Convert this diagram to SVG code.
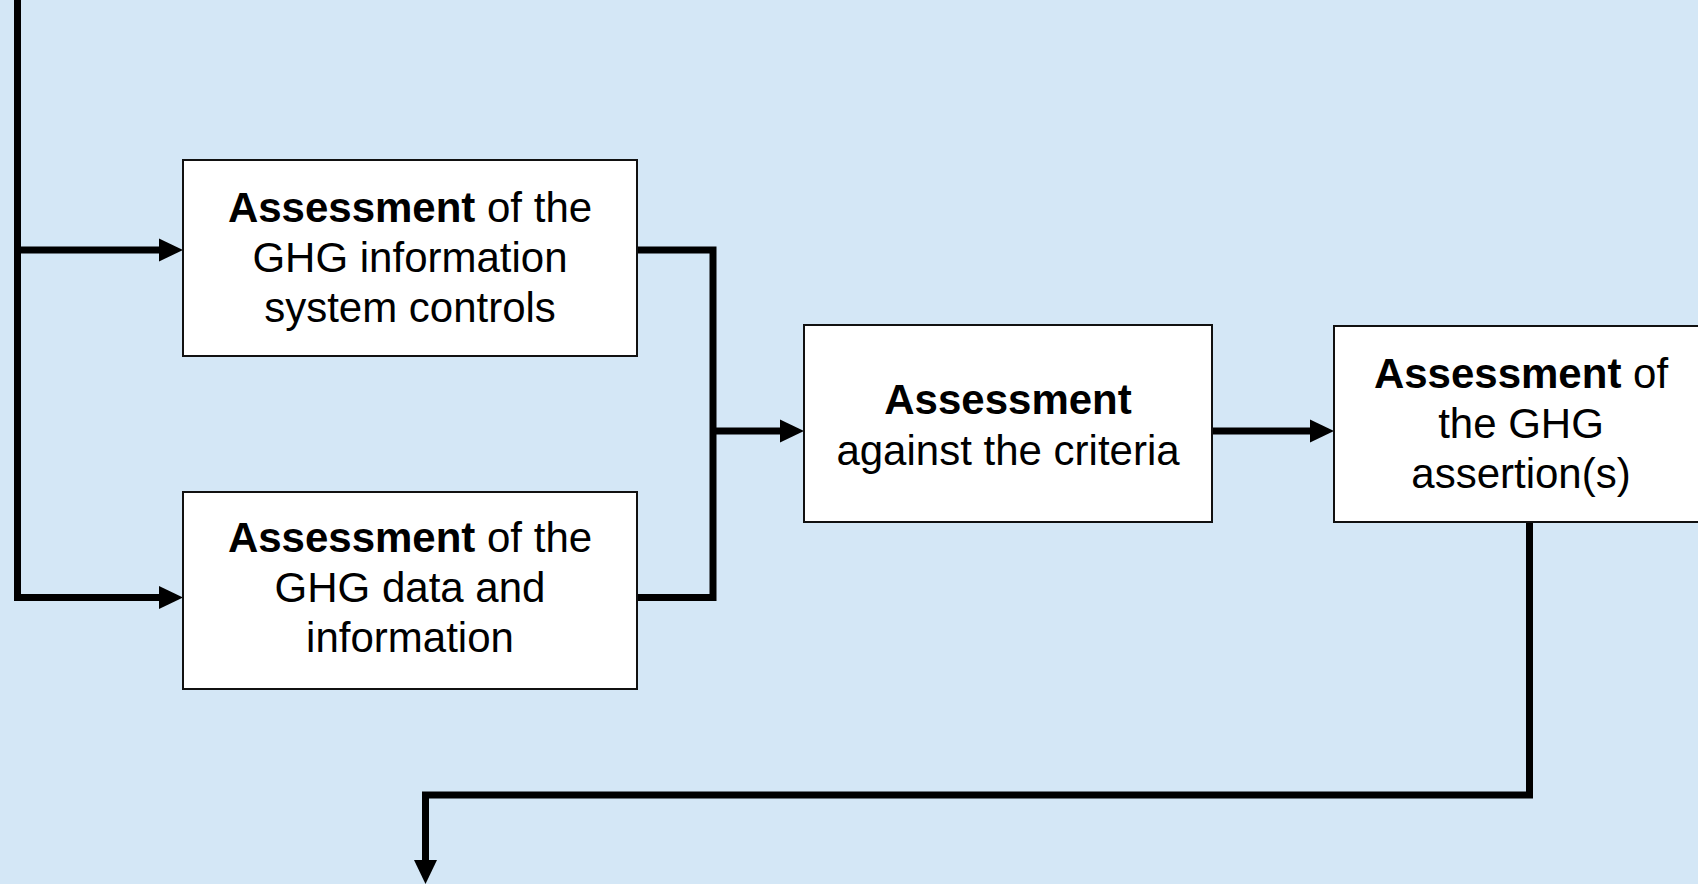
<svg xmlns="http://www.w3.org/2000/svg" width="1698" height="884" viewBox="0 0 1698 884">
  <style>
    .box { fill: #ffffff; stroke: #111111; stroke-width: 2; }
    .lbl { font-family: "Liberation Sans", Arial, sans-serif; font-size: 42px; fill: #000000; text-anchor: middle; }
    .b { font-weight: bold; }
    .conn { fill: none; stroke: #000000; stroke-width: 7; stroke-linejoin: miter; stroke-linecap: butt; }
  </style>
  <defs>
    <marker id="arr" markerUnits="userSpaceOnUse" markerWidth="25" markerHeight="23" refX="1" refY="11.5" orient="auto" overflow="visible">
      <path d="M0,0 L24,11.5 L0,23 Z" fill="#000000"/>
    </marker>
  </defs>
  <rect x="0" y="0" width="1698" height="884" fill="#D4E7F6"/>

  <g id="connectors">
    <path class="conn" d="M17.5,0 V597.5 H160" marker-end="url(#arr)"/>
    <path class="conn" d="M17.5,250 H160" marker-end="url(#arr)"/>
    <path class="conn" d="M637,250 H713 V597.5 H637"/>
    <path class="conn" d="M713,431 H781" marker-end="url(#arr)"/>
    <path class="conn" d="M1212,431 H1311" marker-end="url(#arr)"/>
    <path class="conn" d="M1529.5,522 V795 H425.5 V861" marker-end="url(#arr)"/>
  </g>

  <g id="node-system-controls">
    <rect class="box" x="183" y="160" width="454" height="196"/>
    <text class="lbl" x="410" y="222"><tspan class="b">Assessment</tspan> of the</text>
    <text class="lbl" x="410" y="272">GHG information</text>
    <text class="lbl" x="410" y="322">system controls</text>
  </g>

  <g id="node-data-information">
    <rect class="box" x="183" y="492" width="454" height="197"/>
    <text class="lbl" x="410" y="552"><tspan class="b">Assessment</tspan> of the</text>
    <text class="lbl" x="410" y="602">GHG data and</text>
    <text class="lbl" x="410" y="652">information</text>
  </g>

  <g id="node-criteria">
    <rect class="box" x="804" y="325" width="408" height="197"/>
    <text class="lbl" x="1008" y="414"><tspan class="b">Assessment</tspan></text>
    <text class="lbl" x="1008" y="465">against the criteria</text>
  </g>

  <g id="node-assertions">
    <rect class="box" x="1334" y="326" width="380" height="196"/>
    <text class="lbl" x="1521" y="388"><tspan class="b">Assessment</tspan> of</text>
    <text class="lbl" x="1521" y="438">the GHG</text>
    <text class="lbl" x="1521" y="488">assertion(s)</text>
  </g>
</svg>
